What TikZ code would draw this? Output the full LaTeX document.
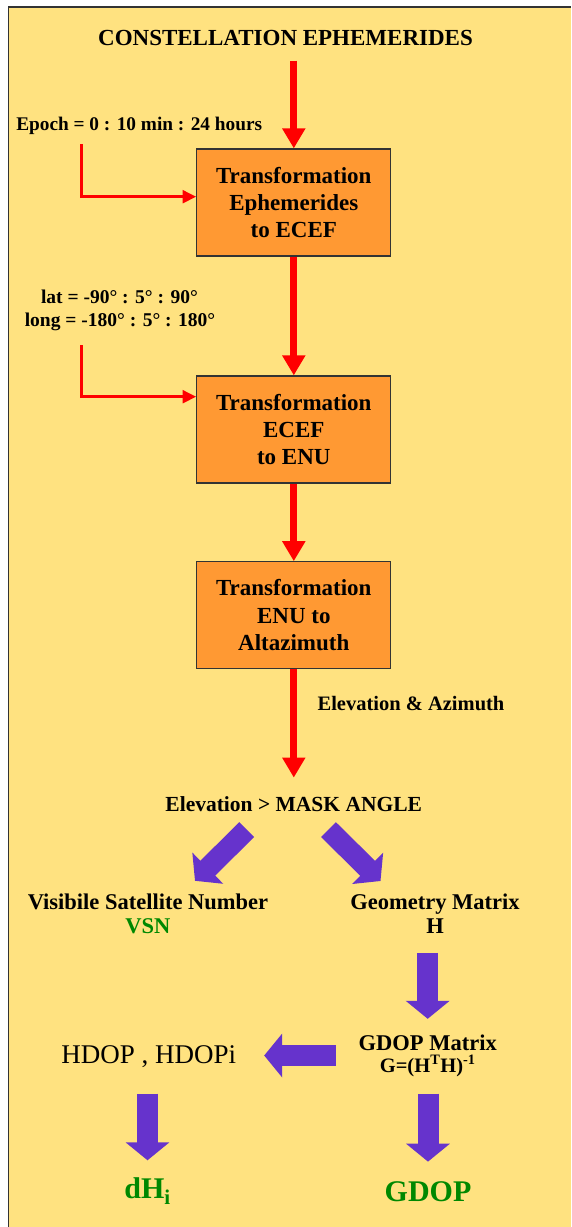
\documentclass[tikz,border=0pt]{standalone}
\usepackage{fontspec}
\setmainfont{Liberation Serif}
\usetikzlibrary{arrows.meta}
\definecolor{bgyellow}{RGB}{255,226,128}
\definecolor{boxorange}{RGB}{255,153,51}
\definecolor{arrowpurple}{RGB}{102,51,204}
\definecolor{labelgreen}{RGB}{0,136,0}
\tikzset{
  stepbox/.style={draw=black!80,line width=1.2pt,fill=boxorange,minimum width=194pt,minimum height=107pt,inner sep=0pt,align=center,font=\bfseries\fontsize{23}{27.3}\selectfont},
  toptitle/.style={inner sep=0pt,anchor=base,font=\bfseries\fontsize{23}{27}\selectfont},
  sidelabel/.style={inner sep=0pt,anchor=base,font=\bfseries\fontsize{19.3}{23}\selectfont},
  flowlabel/.style={inner sep=0pt,anchor=base,font=\bfseries\fontsize{21}{24}\selectfont},
  resultlabel/.style={inner sep=0pt,align=center,font=\bfseries\fontsize{22.5}{24}\selectfont},
  finallabel/.style={inner sep=0pt,anchor=base,text=labelgreen,font=\bfseries\fontsize{30}{34}\selectfont},
  mainarrow/.style={draw=red,line width=6.7pt,-{Triangle[width=22pt,length=20pt]}},
  feedarrow/.style={draw=red,line width=3pt,-{Triangle[width=12.6pt,length=13.5pt]}},
  fatarrow/.style={draw=arrowpurple,line width=21pt,-{Triangle[width=43pt,length=18pt]}}
}
\begin{document}
\begin{tikzpicture}[x=1pt,y=-1pt]
\useasboundingbox (0,0) rectangle (571,1227);
\fill[bgyellow] (8.5,7) rectangle (571,1227);
\draw[line width=1.8pt,black!80] (8.5,1227) -- (8.5,7) -- (571,7);

\node[toptitle] (title) at (285.5,45) {CONSTELLATION EPHEMERIDES};
\node[sidelabel] (epoch) at (139.2,130) {Epoch = 0 : 10 min : 24 hours};
\node[stepbox] (box1) at (293.8,202.5) {Transformation\\Ephemerides\\to ECEF};
\node[sidelabel,font=\bfseries\fontsize{19.5}{23}\selectfont] (latlbl) at (119.5,303.5) {lat = -90° : 5° : 90°};
\node[sidelabel,font=\bfseries\fontsize{19.5}{23}\selectfont] (lonlbl) at (120,326.7) {long = -180° : 5° : 180°};
\node[stepbox] (box2) at (293.8,429.5) {Transformation\\ECEF\\to ENU};
\node[stepbox] (box3) at (293.8,615.3) {Transformation\\ENU to\\Altazimuth};
\node[flowlabel,font=\bfseries\fontsize{20.5}{24}\selectfont] (elaz) at (411,710.7) {Elevation \& Azimuth};
\node[flowlabel,font=\bfseries\fontsize{21.5}{24}\selectfont] (mask) at (293.7,811.7) {Elevation > MASK ANGLE};
\node[resultlabel] (vis) at (148,913.5) {Visibile Satellite Number\\\textcolor{labelgreen}{VSN}};
\node[resultlabel] (geo) at (435,913.5) {Geometry Matrix\\H};
\node[resultlabel,font=\bfseries\fontsize{22.5}{22}\selectfont] (gdopm) at (427.7,1055.5) {GDOP Matrix\\{\fontsize{20.5}{22}\selectfont G=(H\textsuperscript{T}H)\textsuperscript{-1}}};
\node[inner sep=0pt,anchor=base,font=\fontsize{27}{30}\selectfont] (hdop) at (148.8,1063.3) {HDOP , HDOPi};
\node[finallabel] (dhi) at (147.5,1198.3) {dH\textsubscript{i}};
\node[finallabel] (gdop) at (428,1201.7) {GDOP};

\draw[mainarrow,shorten <=15.7pt] (box1.north |- title.base) -- (box1.north);
\draw[mainarrow] (box1.south) -- (box2.north);
\draw[mainarrow] (box2.south) -- (box3.north);
\draw[mainarrow,shorten >=19pt] (box3.south) -- (box3.south |- mask.north);
\draw[feedarrow] ([xshift=-58pt,yshift=-10.1pt]epoch.south) |- ([yshift=5.8pt]box1.west);
\draw[feedarrow] ([xshift=-39pt,yshift=-14pt]lonlbl.south) |- ([yshift=32.8pt]box2.west);

\draw[fatarrow] ([xshift=-47pt,yshift=-17.5pt]mask.south) -- ([xshift=47pt,yshift=12.5pt]vis.north);
\draw[fatarrow] ([xshift=34.8pt,yshift=-17.5pt]mask.south) -- ([xshift=-54.5pt,yshift=12.5pt]geo.north);
\draw[fatarrow,shorten <=19.4pt,shorten >=15.5pt] (gdopm.north |- geo.south) -- (gdopm.north);
\draw[fatarrow,shorten <=22.9pt,shorten >=27.8pt] (gdopm.west) -- (hdop.east |- gdopm.west);
\draw[fatarrow,shorten <=26pt,shorten >=17pt] (dhi.north |- hdop.south) -- (dhi.north);
\draw[fatarrow,shorten <=17pt,shorten >=20pt] (gdop.north |- gdopm.south) -- (gdop.north);
\end{tikzpicture}
\end{document}
